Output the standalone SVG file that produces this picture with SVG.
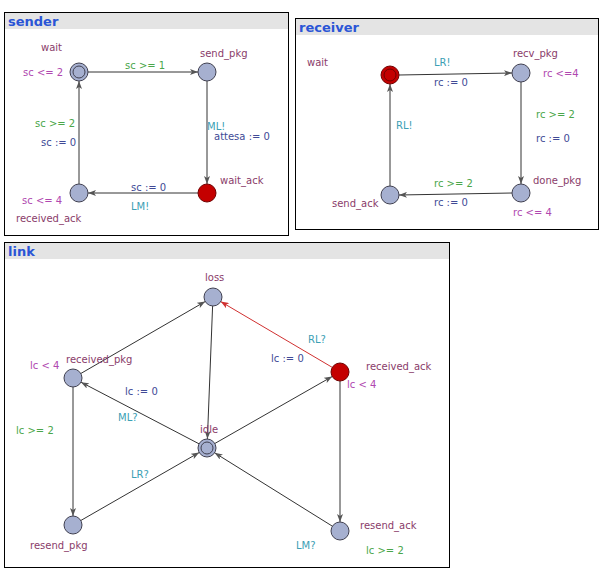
<svg xmlns="http://www.w3.org/2000/svg" width="611" height="585" viewBox="0 0 611 585">
<style>
text{font-family:"DejaVu Sans","Liberation Sans",sans-serif;font-size:10px}
.title{font-size:13px;font-weight:bold;fill:#2a55d6}
.panel{fill:#fff;stroke:#000;stroke-width:1}
.hdr{fill:#e4e4e4}
.loc{fill:#a6b0d0;stroke:#404050;stroke-width:1}
.red{fill:#c40000;stroke:#700000;stroke-width:1}
.nm{fill:#8a3c6a}
.inv{fill:#b048b0}
.gd{fill:#4aa64a}
.sy{fill:#3ca0b4}
.up{fill:#404a96}
.e{stroke:#333;stroke-width:1;fill:none;marker-end:url(#ah)}
.er{stroke:#d03030;stroke-width:1;fill:none;marker-end:url(#ahr)}
</style>
<defs>
<marker id="ah" viewBox="0 0 8 6" refX="8" refY="3" markerWidth="8" markerHeight="6" markerUnits="userSpaceOnUse" orient="auto"><path d="M0,0 L8,3 L0,6 L2,3 z" fill="#555"/></marker>
<marker id="ahr" viewBox="0 0 8 6" refX="8" refY="3" markerWidth="8" markerHeight="6" markerUnits="userSpaceOnUse" orient="auto"><path d="M0,0 L8,3 L0,6 L2,3 z" fill="#d03030"/></marker>
</defs>
<rect width="611" height="585" fill="#fff"/>

<!-- sender panel -->
<g id="sender">
<rect class="panel" x="4.5" y="12.5" width="284" height="223"/>
<rect class="hdr" x="5" y="13" width="283" height="16"/>
<text class="title" x="8" y="26">sender</text>
</g>
<g id="sender-edges">
<line class="e" x1="88" y1="72" x2="198" y2="72"/>
<line class="e" x1="207" y1="81" x2="207" y2="184"/>
<line class="e" x1="198" y1="193" x2="88" y2="193"/>
<line class="e" x1="79" y1="184" x2="79" y2="81"/>
<text class="gd" x="125" y="69">sc &gt;= 1</text>
<text class="sy" x="207" y="130">ML!</text>
<text class="up" x="214" y="140">attesa := 0</text>
<text class="up" x="131" y="191">sc := 0</text>
<text class="sy" x="131" y="210">LM!</text>
<text class="gd" x="35" y="127">sc &gt;= 2</text>
<text class="up" x="41" y="146">sc := 0</text>
</g>
<g id="s_wait">
<circle class="loc" cx="79" cy="72" r="9"/><circle class="loc" cx="79" cy="72" r="6"/>
<text class="nm" x="41" y="51">wait</text>
<text class="inv" x="23" y="76">sc &lt;= 2</text>
</g>
<g id="s_send_pkg">
<circle class="loc" cx="207" cy="72" r="9"/>
<text class="nm" x="200" y="57">send_pkg</text>
</g>
<g id="s_wait_ack">
<circle class="red" cx="207" cy="193" r="9"/>
<text class="nm" x="220" y="184">wait_ack</text>
</g>
<g id="s_received_ack">
<circle class="loc" cx="79" cy="193" r="9"/>
<text class="inv" x="22" y="204">sc &lt;= 4</text>
<text class="nm" x="16" y="222">received_ack</text>
</g>

<!-- receiver panel -->
<g id="receiver">
<rect class="panel" x="295.5" y="18.5" width="303" height="211"/>
<rect class="hdr" x="296" y="19" width="302" height="16"/>
<text class="title" x="299" y="32">receiver</text>
</g>
<g id="receiver-edges">
<line class="e" x1="399" y1="75" x2="512" y2="73"/>
<line class="e" x1="521" y1="82" x2="521" y2="184"/>
<line class="e" x1="512" y1="193" x2="399" y2="195"/>
<line class="e" x1="390" y1="186" x2="390" y2="84"/>
<text class="sy" x="434" y="66">LR!</text>
<text class="up" x="434" y="86">rc := 0</text>
<text class="gd" x="536" y="118">rc &gt;= 2</text>
<text class="up" x="536" y="142">rc := 0</text>
<text class="gd" x="434" y="187">rc &gt;= 2</text>
<text class="up" x="434" y="206">rc := 0</text>
<text class="sy" x="396" y="129">RL!</text>
</g>
<g id="r_wait">
<circle class="red" cx="390" cy="75" r="9"/><circle class="red" cx="390" cy="75" r="6"/>
<text class="nm" x="307" y="66">wait</text>
</g>
<g id="r_recv_pkg">
<circle class="loc" cx="521" cy="73" r="9"/>
<text class="nm" x="513" y="57">recv_pkg</text>
<text class="inv" x="543" y="77">rc &lt;=4</text>
</g>
<g id="r_done_pkg">
<circle class="loc" cx="521" cy="193" r="9"/>
<text class="nm" x="533" y="184">done_pkg</text>
<text class="inv" x="513" y="216">rc &lt;= 4</text>
</g>
<g id="r_send_ack">
<circle class="loc" cx="390" cy="195" r="9"/>
<text class="nm" x="332" y="207">send_ack</text>
</g>

<!-- link panel -->
<g id="link">
<rect class="panel" x="4.5" y="242.5" width="445" height="325"/>
<rect class="hdr" x="5" y="243" width="444" height="16"/>
<text class="title" x="8" y="256">link</text>
</g>
<g id="link-edges">
<line class="e" x1="80.8" y1="373.5" x2="205.2" y2="301.5"/>
<line class="e" x1="212.6" y1="306" x2="207.4" y2="439"/>
<line class="e" x1="199" y1="443.8" x2="81" y2="382.2"/>
<line class="e" x1="73" y1="387" x2="73" y2="516"/>
<line class="e" x1="80.8" y1="520.5" x2="199.2" y2="452.5"/>
<line class="e" x1="214.8" y1="443.5" x2="332.2" y2="376.5"/>
<line class="er" x1="332.3" y1="367.4" x2="220.7" y2="301.6"/>
<line class="e" x1="340" y1="381" x2="340" y2="522"/>
<line class="e" x1="332.4" y1="526.2" x2="214.6" y2="452.8"/>
<text class="up" x="125" y="395">lc := 0</text>
<text class="sy" x="118" y="421">ML?</text>
<text class="gd" x="16" y="434">lc &gt;= 2</text>
<text class="sy" x="131" y="478">LR?</text>
<text class="sy" x="308" y="343">RL?</text>
<text class="up" x="271" y="362">lc := 0</text>
<text class="sy" x="296" y="549">LM?</text>
<text class="gd" x="366" y="554">lc &gt;= 2</text>
</g>
<g id="l_loss">
<circle class="loc" cx="213" cy="297" r="9"/>
<text class="nm" x="205" y="281">loss</text>
</g>
<g id="l_received_pkg">
<circle class="loc" cx="73" cy="378" r="9"/>
<text class="inv" x="30" y="369">lc &lt; 4</text>
<text class="nm" x="66" y="363">received_pkg</text>
</g>
<g id="l_idle">
<circle class="loc" cx="207" cy="448" r="9"/><circle class="loc" cx="207" cy="448" r="6"/>
<text class="nm" x="200" y="433">idle</text>
</g>
<g id="l_received_ack">
<circle class="red" cx="340" cy="372" r="9"/>
<text class="nm" x="366" y="370">received_ack</text>
<text class="inv" x="347" y="388">lc &lt; 4</text>
</g>
<g id="l_resend_pkg">
<circle class="loc" cx="73" cy="525" r="9"/>
<text class="nm" x="30" y="549">resend_pkg</text>
</g>
<g id="l_resend_ack">
<circle class="loc" cx="340" cy="531" r="9"/>
<text class="nm" x="360" y="529">resend_ack</text>
</g>
</svg>
